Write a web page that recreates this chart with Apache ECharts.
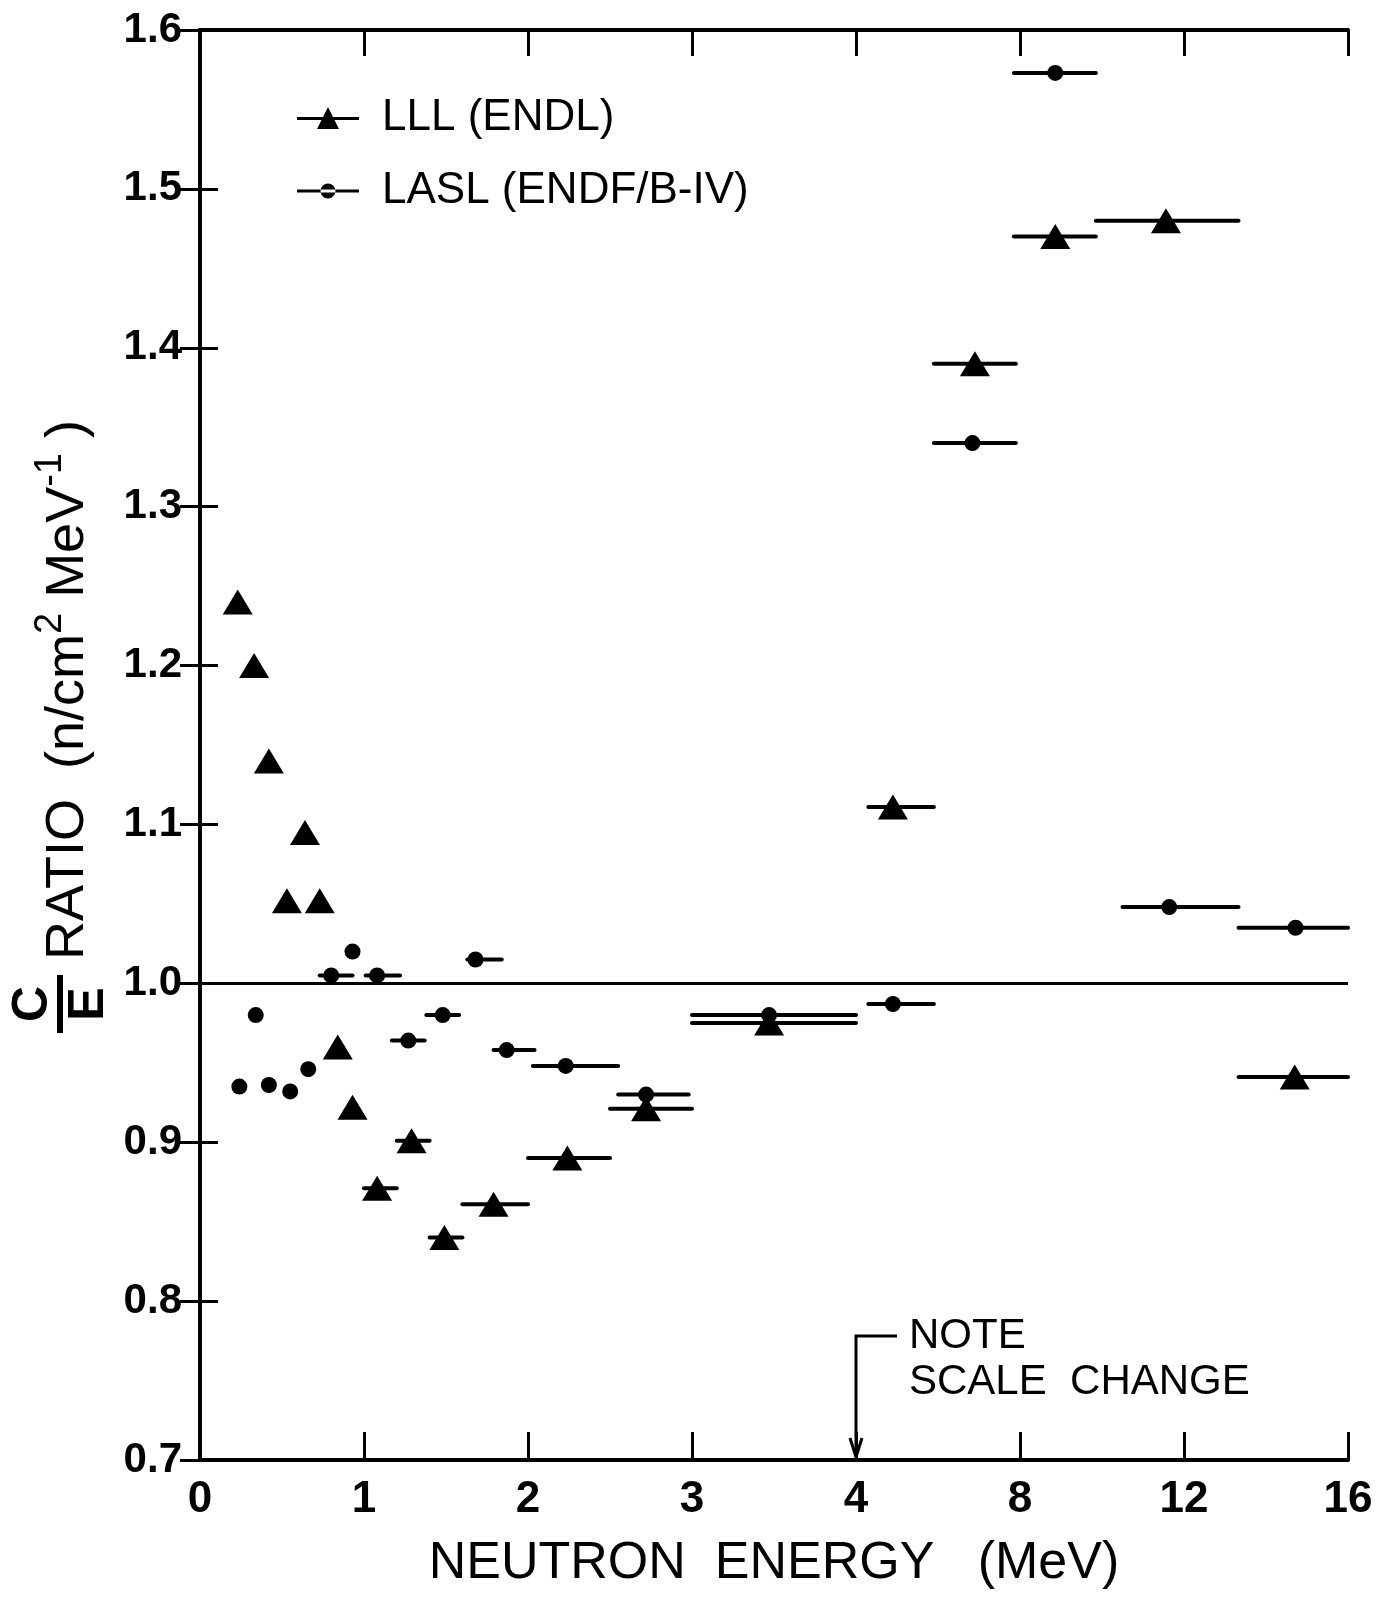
<!DOCTYPE html>
<html>
<head>
<meta charset="utf-8">
<script src="https://cdn.jsdelivr.net/npm/echarts@6/dist/echarts.min.js"></script>
<style>
html,body{margin:0;padding:0;background:#fff;}
#chart{width:1381px;height:1600px;}
</style>
</head>
<body>
<div id="chart"></div>
<script>
// ---- data (energy in MeV, C/E ratio) ----
const xTickLabels = ['0', '1', '2', '3', '4', '8', '12', '16'];

// LLL (ENDL) - triangles
const lllEnergy = [0.23, 0.33, 0.42, 0.53, 0.64, 0.73, 0.84, 0.93, 1.08, 1.29, 1.49, 1.79, 2.24, 2.72, 3.47, 4.9, 6.9, 8.86, 11.56, 14.7];
const lllRatio  = [1.24, 1.20, 1.14, 1.052, 1.095, 1.052, 0.960, 0.922, 0.871, 0.901, 0.840, 0.861, 0.890, 0.921, 0.975, 1.111, 1.390, 1.470, 1.480, 0.941];
const lllLow    = [null, null, null, null, null, null, null, null, 1.0, 1.2, 1.4, 1.6, 2.0, 2.5, 3.0, 4.3, 5.9, 7.85, 9.85, 13.33];
const lllHigh   = [null, null, null, null, null, null, null, null, 1.2, 1.4, 1.6, 2.0, 2.5, 3.0, 4.0, 5.9, 7.9, 9.85, 13.33, 16];

// LASL (ENDF/B-IV) - circles
const laslEnergy = [0.24, 0.34, 0.42, 0.55, 0.66, 0.80, 0.93, 1.08, 1.27, 1.48, 1.68, 1.87, 2.23, 2.72, 3.47, 4.9, 6.84, 8.86, 11.64, 14.72];
const laslRatio  = [0.935, 0.980, 0.936, 0.932, 0.946, 1.005, 1.020, 1.005, 0.964, 0.980, 1.015, 0.958, 0.948, 0.930, 0.980, 0.987, 1.340, 1.573, 1.048, 1.035];
const laslLow    = [null, null, null, null, null, 0.73, null, 1.01, 1.17, 1.38, 1.63, 1.79, 2.03, 2.55, 3.0, 4.3, 5.9, 7.85, 10.5, 13.33];
const laslHigh   = [null, null, null, null, null, 0.93, null, 1.22, 1.37, 1.58, 1.84, 2.04, 2.55, 2.98, 4.0, 5.9, 7.9, 9.85, 13.33, 16];

const yTicks = { min: 0.7, max: 1.6, step: 0.1 };

// piecewise energy scale: linear 0-4 MeV, then 4 MeV per division up to 16
function toAxis(E) { return E <= 4 ? E : 4 + (E - 4) / 4; }

function pts(E, R) { return E.map((e, i) => [toAxis(e), R[i]]); }
function bars(E, R, lo, hi) {
  const out = [];
  E.forEach((e, i) => { if (lo[i] != null) out.push([toAxis(e), R[i], toAxis(lo[i]), toAxis(hi[i])]); });
  return out;
}

const FONT = '"Liberation Sans", Arial, sans-serif';
const chart = echarts.init(document.getElementById('chart'), null, { renderer: 'canvas' });

function barRender(params, api) {
  const p1 = api.coord([api.value(2), api.value(1)]);
  const p2 = api.coord([api.value(3), api.value(1)]);
  return {
    type: 'line',
    shape: { x1: p1[0], y1: p1[1], x2: p2[0], y2: p2[1] },
    style: { stroke: '#000', lineWidth: 4, lineCap: 'round' }
  };
}

const axisLineStyle = { color: '#000', width: 4 };

chart.setOption({
  backgroundColor: '#fff',
  animation: false,
  grid: { left: 200, top: 30, right: 33, bottom: 140, containLabel: false },
  legend: [
    {
      data: [{ name: 'LLL (ENDL)', icon: 'path://M0,10 L62,10 L62,13 L0,13 Z M31,0 L42,22 L20,22 Z' }],
      left: 297, top: 96, padding: 0, itemWidth: 62, itemHeight: 22,
      selectedMode: false,
      textStyle: { fontFamily: FONT, fontSize: 44, lineHeight: 44, color: '#000', padding: [0, 0, 0, 18] }
    },
    {
      data: [{ name: 'LASL (ENDF/B-IV)', icon: 'path://M0,6 L62,6 L62,9 L0,9 Z M23.5,7.5 A7.5,7.5 0 1,0 38.5,7.5 A7.5,7.5 0 1,0 23.5,7.5 Z' }],
      left: 297, top: 169, padding: 0, itemWidth: 62, itemHeight: 15,
      selectedMode: false,
      textStyle: { fontFamily: FONT, fontSize: 44, lineHeight: 44, color: '#000', padding: [0, 0, 0, 18] }
    }
  ],
  xAxis: [
    {
      type: 'value', min: 0, max: 7, interval: 1, position: 'bottom',
      name: 'NEUTRON  ENERGY   (MeV)', nameLocation: 'middle', nameGap: 78,
      nameTextStyle: { fontFamily: FONT, fontSize: 52, color: '#000' },
      axisLine: { show: true, lineStyle: axisLineStyle },
      axisTick: { show: true, inside: true, length: 28, lineStyle: { color: '#000', width: 3 } },
      axisLabel: { margin: 18, fontFamily: FONT, fontSize: 44, fontWeight: 'bold', color: '#000',
        formatter: v => xTickLabels[Math.round(v)] },
      splitLine: { show: false }
    },
    {
      type: 'value', min: 0, max: 7, interval: 1, position: 'top',
      axisLine: { show: true, lineStyle: axisLineStyle },
      axisTick: { show: true, inside: true, length: 26, lineStyle: { color: '#000', width: 3 } },
      axisLabel: { show: false }, splitLine: { show: false }
    }
  ],
  yAxis: [
    {
      type: 'value', min: yTicks.min, max: yTicks.max, interval: yTicks.step, position: 'left',
      axisLine: { show: true, lineStyle: axisLineStyle },
      axisTick: { show: true, inside: true, length: 18, lineStyle: { color: '#000', width: 3 } },
      axisLabel: { margin: 18, fontFamily: FONT, fontSize: 42, fontWeight: 'bold', color: '#000',
        formatter: v => v.toFixed(1) },
      splitLine: { show: false }
    },
    {
      type: 'value', min: yTicks.min, max: yTicks.max, interval: yTicks.step, position: 'right',
      axisLine: { show: true, lineStyle: axisLineStyle },
      axisTick: { show: true, inside: true, length: 20, lineStyle: { color: '#000', width: 3 } },
      axisLabel: { show: false }, splitLine: { show: false }
    }
  ],
  series: [
    {
      name: 'LLL bars', type: 'custom', renderItem: barRender, z: 2,
      data: bars(lllEnergy, lllRatio, lllLow, lllHigh), silent: true
    },
    {
      name: 'LASL bars', type: 'custom', renderItem: barRender, z: 2,
      data: bars(laslEnergy, laslRatio, laslLow, laslHigh), silent: true
    },
    {
      name: 'LLL (ENDL)', type: 'scatter', symbol: 'triangle', symbolSize: [30, 25], z: 3,
      itemStyle: { color: '#000', opacity: 1 },
      data: pts(lllEnergy, lllRatio),
      markLine: {
        silent: true, symbol: 'none', label: { show: false },
        lineStyle: { color: '#000', width: 3, type: 'solid' },
        data: [{ yAxis: 1.0 }]
      }
    },
    {
      name: 'LASL (ENDF/B-IV)', type: 'scatter', symbol: 'circle', symbolSize: 16, z: 3,
      itemStyle: { color: '#000', opacity: 1 },
      data: pts(laslEnergy, laslRatio)
    }
  ]
});

// ---- annotations: y-axis title (C/E fraction) and scale-change note ----
const aTop = chart.convertToPixel({ xAxisIndex: 0, yAxisIndex: 0 }, [4, 0.778]);
const aBot = chart.convertToPixel({ xAxisIndex: 0, yAxisIndex: 0 }, [4, 0.7]);
const aElbow = chart.convertToPixel({ xAxisIndex: 0, yAxisIndex: 0 }, [4.25, 0.778]);

chart.setOption({
  graphic: [
    // y-axis title
    { type: 'text', x: 33, y: 1004, rotation: Math.PI / 2,
      style: { text: 'C', font: 'bold 50px ' + FONT, fill: '#000', align: 'center', verticalAlign: 'middle' } },
    { type: 'rect', shape: { x: 57, y: 975, width: 6, height: 58 }, style: { fill: '#000' } },
    { type: 'text', x: 89, y: 1004, rotation: Math.PI / 2,
      style: { text: 'E', font: 'bold 50px ' + FONT, fill: '#000', align: 'center', verticalAlign: 'middle' } },
    { type: 'text', x: 68, y: 960, rotation: Math.PI / 2,
      style: {
        text: 'RATIO  (n/cm{sup|2} MeV{sup|-1} )',
        font: '54px ' + FONT, fill: '#000', align: 'left', verticalAlign: 'middle',
        rich: { sup: { fontSize: 38, fontFamily: FONT, fill: '#000', padding: [0, 0, 34, 0] } }
      } },
    // scale-change arrow
    { type: 'polyline', shape: { points: [[aElbow[0], aElbow[1]], [aTop[0], aTop[1]], [aBot[0], aBot[1] - 3]] },
      style: { stroke: '#000', lineWidth: 3, fill: null } },
    { type: 'polyline', shape: { points: [[aBot[0] - 6, aBot[1] - 22], [aBot[0], aBot[1] - 3], [aBot[0] + 6, aBot[1] - 22]] },
      style: { stroke: '#000', lineWidth: 3, fill: null } },
    { type: 'text', x: aElbow[0] + 12, y: aElbow[1],
      style: { text: 'NOTE', font: '42px ' + FONT, fill: '#000', align: 'left', verticalAlign: 'middle' } },
    { type: 'text', x: aElbow[0] + 12, y: aElbow[1] + 46,
      style: { text: 'SCALE  CHANGE', font: '42px ' + FONT, fill: '#000', align: 'left', verticalAlign: 'middle' } }
  ]
});
</script>
</body>
</html>
